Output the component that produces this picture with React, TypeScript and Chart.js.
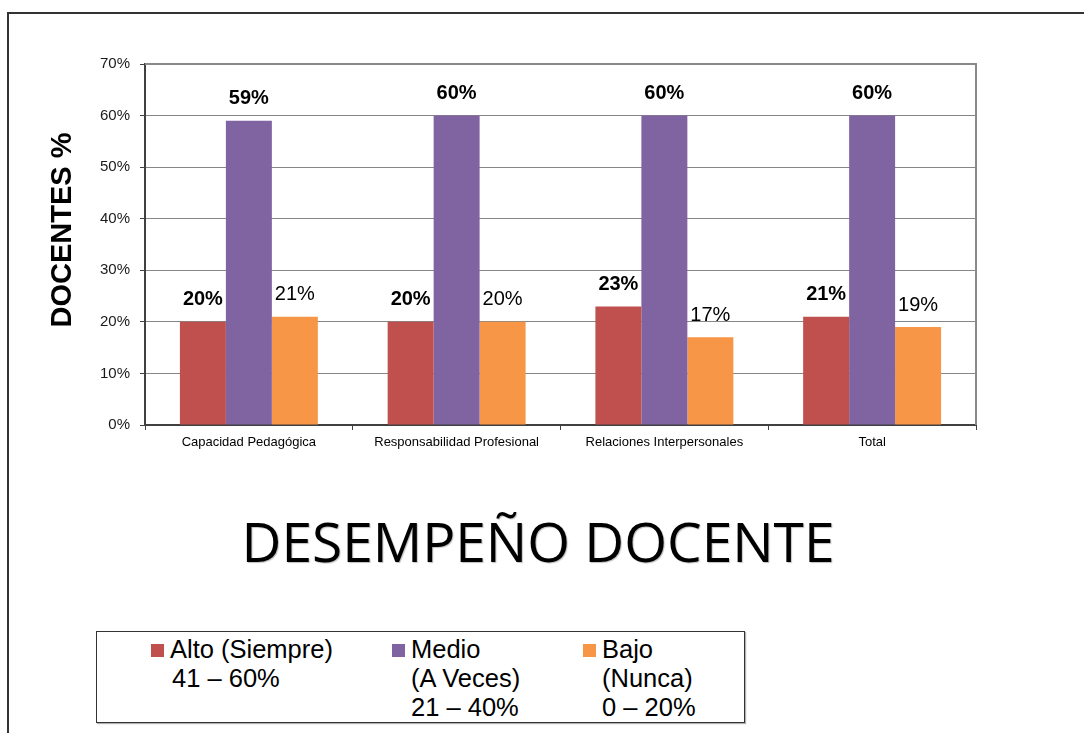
import React, { useEffect, useRef } from "react";
import { Chart, registerables } from "chart.js";

Chart.register(...registerables);

const categories = [
  "Capacidad Pedagógica",
  "Responsabilidad Profesional",
  "Relaciones Interpersonales",
  "Total",
];
const altoValues = [20, 20, 23, 21];
const medioValues = [59, 60, 60, 60];
const bajoValues = [21, 20, 17, 19];

const seriesLabels = [
  ["Alto (Siempre)", "41 – 60%"],
  ["Medio", "(A Veces)", "21 – 40%"],
  ["Bajo", "(Nunca)", "0 – 20%"],
];
const seriesColors = ["#C0504D", "#8064A2", "#F79646"];
const labelBold = [true, true, false];

const yTicks = [0, 10, 20, 30, 40, 50, 60, 70];
const yTitle = "DOCENTES %";
const chartTitle = "DESEMPEÑO DOCENTE";

const FONT = "'Liberation Sans', Arial, Helvetica, sans-serif";

const frameAndLabels = {
  id: "frameAndLabels",
  beforeDatasetsDraw(chart: any) {
    const { ctx, chartArea } = chart;
    ctx.save();
    ctx.strokeStyle = "#8a8a8a";
    ctx.lineWidth = 2;
    ctx.beginPath();
    ctx.moveTo(chartArea.left, chartArea.top);
    ctx.lineTo(chartArea.right, chartArea.top);
    ctx.lineTo(chartArea.right, chartArea.bottom);
    ctx.stroke();
    ctx.restore();
  },
  afterDatasetsDraw(chart: any) {
    const { ctx } = chart;
    ctx.save();
    chart.data.datasets.forEach((ds: any, i: number) => {
      const meta = chart.getDatasetMeta(i);
      meta.data.forEach((bar: any, j: number) => {
        ctx.font = `${labelBold[i] ? "bold " : ""}20px ${FONT}`;
        ctx.fillStyle = "#000";
        ctx.textAlign = "center";
        ctx.textBaseline = "middle";
        ctx.fillText(ds.data[j] + "%", bar.x, bar.y - 22);
      });
    });
    ctx.restore();
  },
  afterDraw(chart: any) {
    const { ctx, chartArea } = chart;
    ctx.save();
    ctx.translate(63, chartArea.top + chartArea.height * 0.46);
    ctx.rotate(-Math.PI / 2);
    ctx.font = `bold 29px ${FONT}`;
    ctx.fillStyle = "#000";
    ctx.textAlign = "center";
    ctx.textBaseline = "middle";
    ctx.fillText(yTitle, 0, 0);
    ctx.restore();
  },
};

export default function App() {
  const ref = useRef<HTMLCanvasElement | null>(null);

  useEffect(() => {
    if (!ref.current) return;
    const chart = new Chart(ref.current, {
      type: "bar",
      data: {
        labels: categories,
        datasets: [altoValues, medioValues, bajoValues].map((d, i) => ({
          label: seriesLabels[i].join(" "),
          data: d,
          backgroundColor: seriesColors[i],
          borderWidth: 0,
          categoryPercentage: 0.664,
          barPercentage: 1,
        })),
      },
      options: {
        animation: false,
        responsive: false,
        layout: { padding: { left: 0, top: 64, right: 108, bottom: 0 } },
        plugins: {
          legend: { display: false },
          tooltip: { enabled: false },
          title: { display: false },
        },
        scales: {
          x: {
            afterFit: (s: any) => {
              s.height = 55;
            },
            grid: {
              display: true,
              drawOnChartArea: false,
              offset: true,
              tickLength: 5,
              tickColor: "#404040",
              tickWidth: 1,
            },
            border: { display: true, color: "#404040", width: 2 },
            ticks: {
              color: "#000",
              font: { family: FONT, size: 13 },
              padding: 5,
              maxRotation: 0,
              autoSkip: false,
            },
          },
          y: {
            min: 0,
            max: 70,
            afterFit: (s: any) => {
              s.width = 145;
            },
            afterBuildTicks: (s: any) => {
              s.ticks = yTicks.map((v) => ({ value: v }));
            },
            grid: {
              color: "#868686",
              lineWidth: 1,
              tickLength: 5,
              tickColor: "#404040",
            },
            border: { display: true, color: "#404040", width: 2 },
            ticks: {
              color: "#1a1a1a",
              font: { family: FONT, size: 15 },
              padding: 10,
              callback: (v: any) => v + "%",
            },
          },
        },
      },
      plugins: [frameAndLabels],
    });
    return () => chart.destroy();
  }, []);

  return (
    <div
      style={{
        position: "absolute",
        left: 0,
        top: 0,
        width: 1084,
        height: 733,
        overflow: "hidden",
        background: "#fff",
      }}
    >
      <div
        style={{
          position: "absolute",
          left: 7,
          top: 12,
          width: 1100,
          height: 800,
          borderLeft: "2px solid #333",
          borderTop: "2px solid #333",
        }}
      />
      <canvas
        ref={ref}
        width={1084}
        height={480}
        style={{ position: "absolute", left: 0, top: 0, width: 1084, height: 480 }}
      />
      <div
        style={{
          position: "absolute",
          left: 0,
          width: 1076,
          top: 503,
          textAlign: "center",
          fontFamily: "'Open Sans', sans-serif",
          fontSize: 55,
          lineHeight: "76px",
          color: "#000",
          textShadow: "1px 1px 1px rgba(0,0,0,0.25)",
          whiteSpace: "nowrap",
        }}
      >
        {chartTitle}
      </div>
      <div
        style={{
          position: "absolute",
          left: 96,
          top: 631,
          width: 647,
          height: 90,
          border: "1px solid #333",
          boxShadow: "1px 1px 1px rgba(0,0,0,0.3)",
          background: "#fff",
          fontFamily: FONT,
          fontSize: 25.5,
          color: "#000",
        }}
      >
        {seriesLabels.map((lines, i) => (
          <div
            key={i}
            style={{
              position: "absolute",
              left: [54, 295, 486][i],
              top: 3,
              display: "flex",
              alignItems: "flex-start",
            }}
          >
            <div
              style={{
                width: 13,
                height: 13,
                marginTop: 9,
                marginRight: 6,
                background: seriesColors[i],
              }}
            />
            <div style={{ lineHeight: "29px", whiteSpace: "nowrap" }}>
              {lines.map((l, k) => (
                <div key={k} style={{ paddingLeft: k > 0 && i === 0 ? 2 : 0 }}>
                  {l}
                </div>
              ))}
            </div>
          </div>
        ))}
      </div>
    </div>
  );
}
